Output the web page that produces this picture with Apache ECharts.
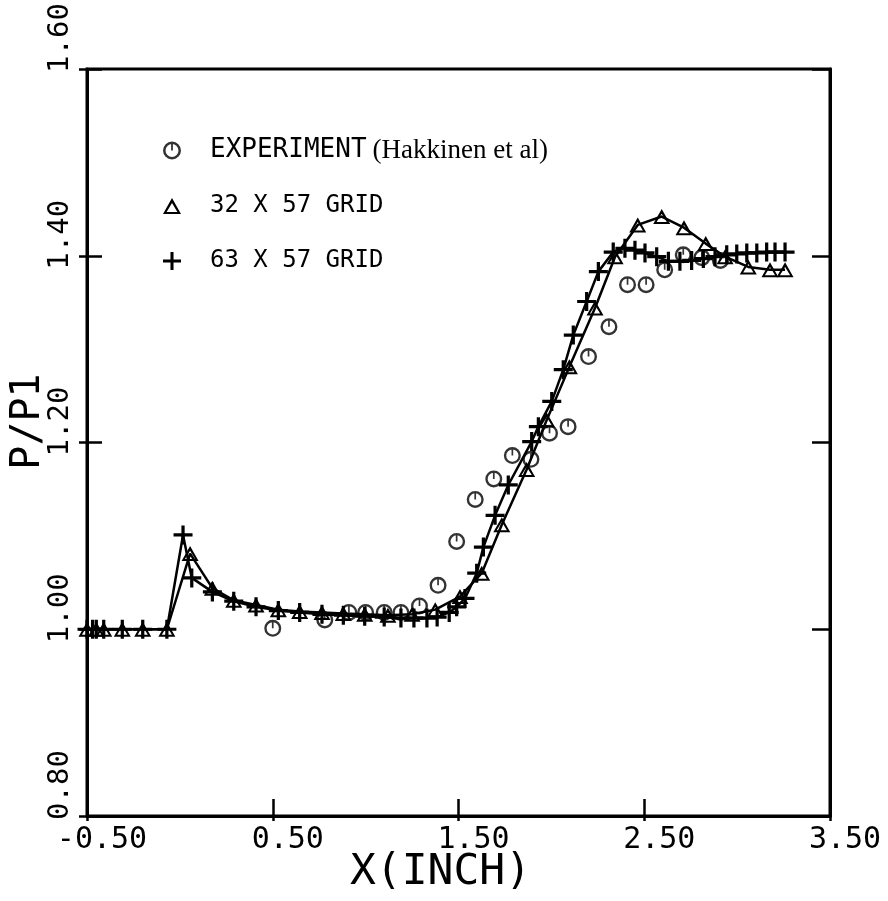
<!DOCTYPE html>
<html>
<head>
<meta charset="utf-8">
<script src="https://cdn.jsdelivr.net/npm/echarts@6/dist/echarts.min.js"></script>
<style>
html,body{margin:0;padding:0;background:#fff;}
#chart{width:888px;height:901px;}
</style>
</head>
<body>
<div id="chart"></div>
<script>
// Tick labels
const xTicks = [-0.50, 0.50, 1.50, 2.50, 3.50];
const yTicks = [0.80, 1.00, 1.20, 1.40, 1.60];

// Experiment (Hakkinen et al)
const xExp = [0.50, 0.78, 0.91, 1.00, 1.10, 1.19, 1.29, 1.39, 1.49, 1.59, 1.69, 1.79, 1.89, 1.99, 2.09, 2.20, 2.31, 2.41, 2.51, 2.61, 2.71, 2.81, 2.91];
const yExp = [1.001, 1.010, 1.018, 1.018, 1.018, 1.018, 1.025, 1.047, 1.094, 1.139, 1.161, 1.186, 1.182, 1.210, 1.217, 1.292, 1.324, 1.369, 1.369, 1.385, 1.401, 1.398, 1.395];

// 32 x 57 grid
const x32 = [-0.50, -0.45, -0.41, -0.31, -0.20, -0.07, 0.055, 0.175, 0.29, 0.41, 0.53, 0.645, 0.765, 0.88, 0.995, 1.12, 1.25, 1.375, 1.508, 1.625, 1.733, 1.867, 1.975, 2.097, 2.235, 2.343, 2.465, 2.594, 2.714, 2.831, 2.935, 3.06, 3.177, 3.258];
const y32 = [1.000, 1.000, 1.000, 1.000, 1.000, 1.000, 1.081, 1.044, 1.031, 1.026, 1.021, 1.019, 1.018, 1.017, 1.016, 1.015, 1.016, 1.021, 1.035, 1.060, 1.112, 1.171, 1.224, 1.281, 1.344, 1.399, 1.433, 1.442, 1.430, 1.413, 1.399, 1.388, 1.385, 1.385];

// 63 x 57 grid
const x63 = [-0.50, -0.47, -0.45, -0.41, -0.31, -0.20, -0.07, 0.017, 0.064, 0.175, 0.29, 0.41, 0.53, 0.645, 0.765, 0.88, 0.995, 1.10, 1.19, 1.26, 1.33, 1.385, 1.45, 1.49, 1.535, 1.598, 1.634, 1.697, 1.768, 1.894, 1.93, 2.002, 2.064, 2.118, 2.19, 2.253, 2.333, 2.396, 2.45, 2.504, 2.567, 2.63, 2.692, 2.755, 2.818, 2.881, 2.944, 2.998, 3.052, 3.106, 3.159, 3.204, 3.258];
const y63 = [1.000, 1.000, 1.000, 1.000, 1.000, 1.000, 1.000, 1.101, 1.055, 1.040, 1.030, 1.024, 1.020, 1.018, 1.016, 1.015, 1.014, 1.013, 1.012, 1.012, 1.012, 1.013, 1.018, 1.024, 1.033, 1.060, 1.088, 1.122, 1.1545, 1.201, 1.217, 1.244, 1.278, 1.315, 1.351, 1.383, 1.404, 1.408, 1.406, 1.403, 1.399, 1.394, 1.394, 1.395, 1.397, 1.399, 1.401, 1.402, 1.403, 1.403, 1.404, 1.404, 1.404];

const names = ['EXPERIMENT (Hakkinen et al)', '32 X 57 GRID', '63 X 57 GRID'];

const SYM_CIRCLE = 'path://M10,0A10,10,0,1,1,10,20A10,10,0,1,1,10,0ZM10,2.8A7.2,7.2,0,1,0,10,17.2A7.2,7.2,0,1,0,10,2.8ZM9,2.8L11,2.8L11,10L9,10Z';
const SYM_TRI = 'path://M10,0L20,18L0,18ZM10,5.6L4,15.6L16,15.6Z';
const SYM_PLUS = 'path://M0,8.3L20,8.3L20,11.7L0,11.7ZM8.3,0L11.7,0L11.7,20L8.3,20Z';

const zip = (a, b) => a.map((v, i) => [v, b[i]]);
const MONO = 'DejaVu Sans Mono';

const chart = echarts.init(document.getElementById('chart'), null, {renderer: 'canvas'});
const gridRect = {left: 87, right: 58, top: 69, bottom: 85, containLabel: false, outerBoundsMode: 'none'};

chart.setOption({
  animation: false,
  backgroundColor: '#fff',
  grid: [
    Object.assign({show: true, borderColor: '#000', borderWidth: 3, backgroundColor: 'transparent'}, gridRect),
    Object.assign({show: false}, gridRect)
  ],
  legend: {
    orient: 'vertical',
    left: 158,
    top: 132,
    itemWidth: 18,
    itemHeight: 18,
    itemGap: 29,
    selectedMode: false,
    data: [
      {name: names[0], icon: SYM_CIRCLE},
      {name: names[1], icon: SYM_TRI},
      {name: names[2], icon: SYM_PLUS}
    ],
    itemStyle: {color: '#000'},
    formatter: function (n) {
      if (n === names[0]) return '{m|EXPERIMENT}{s|(Hakkinen et al)}';
      return '{g|' + n + '}';
    },
    textStyle: {
      color: '#000',
      lineHeight: 26,
      rich: {
        m: {fontFamily: MONO, fontSize: 26, color: '#000', padding: [0, 6, 0, 24], lineHeight: 26},
        s: {fontFamily: 'Liberation Serif', fontSize: 27, color: '#000', lineHeight: 26},
        g: {fontFamily: MONO, fontSize: 24, color: '#000', padding: [0, 0, 0, 24], lineHeight: 26}
      }
    }
  },
  xAxis: [
    {
      type: 'value', gridIndex: 0, position: 'bottom',
      min: xTicks[0], max: xTicks[xTicks.length - 1], interval: xTicks[1] - xTicks[0],
      name: 'X(INCH)', nameLocation: 'middle', nameGap: 35, nameMoveOverlap: false,
      nameTextStyle: {fontFamily: MONO, fontSize: 43, color: '#000', padding: [0, 36, 0, 0]},
      axisLine: {show: true, onZero: false, lineStyle: {color: '#000', width: 3}},
      axisTick: {show: true, inside: true, length: 17, lineStyle: {color: '#000', width: 2.5}},
      splitLine: {show: false},
      axisLabel: {
        show: true, margin: 9, color: '#000', fontFamily: MONO, fontSize: 30,
        showMinLabel: true, showMaxLabel: true,
        padding: [0, 0, 0, 30],
        formatter: v => v.toFixed(2)
      }
    },
    {
      type: 'value', gridIndex: 1, position: 'bottom',
      min: xTicks[0], max: xTicks[xTicks.length - 1], interval: xTicks[1] - xTicks[0],
      axisLine: {show: false, onZero: false},
      axisTick: {show: true, inside: false, length: 5, lineStyle: {color: '#000', width: 2.5}},
      axisLabel: {show: false}, splitLine: {show: false}
    }
  ],
  yAxis: [
    {
      type: 'value', gridIndex: 0, position: 'left',
      min: yTicks[0], max: yTicks[yTicks.length - 1], interval: yTicks[1] - yTicks[0],
      name: 'P/P1', nameLocation: 'middle', nameGap: 38, nameRotate: 90, nameMoveOverlap: false,
      nameTextStyle: {fontFamily: MONO, fontSize: 40, color: '#000', padding: [0, 0, 0, 42]},
      axisLine: {show: true, onZero: false, lineStyle: {color: '#000', width: 3}},
      axisTick: {show: true, inside: true, length: 15, lineStyle: {color: '#000', width: 2.5}},
      splitLine: {show: false},
      axisLabel: {
        show: true, rotate: 90, margin: 12, color: '#000', fontFamily: MONO, fontSize: 29,
        showMinLabel: true, showMaxLabel: true,
        formatter: function (v) {
          const k = (Math.abs(v - yTicks[0]) < 1e-6 || Math.abs(v - yTicks[yTicks.length - 1]) < 1e-6) ? 'e' : 'm';
          return '{' + k + '|' + v.toFixed(2) + '}';
        },
        rich: {
          m: {fontFamily: MONO, fontSize: 29, color: '#000', padding: [0, 0, 0, 42]},
          e: {fontFamily: MONO, fontSize: 29, color: '#000', padding: [0, 0, 0, 62]}
        }
      }
    },
    {
      type: 'value', gridIndex: 0, position: 'right',
      min: yTicks[0], max: yTicks[yTicks.length - 1], interval: yTicks[1] - yTicks[0],
      axisLine: {show: true, onZero: false, lineStyle: {color: '#000', width: 3}},
      axisTick: {show: true, inside: true, length: 18, lineStyle: {color: '#000', width: 2.5}},
      axisLabel: {show: false}, splitLine: {show: false}
    },
    {
      type: 'value', gridIndex: 1, position: 'left',
      min: yTicks[0], max: yTicks[yTicks.length - 1], interval: yTicks[1] - yTicks[0],
      axisLine: {show: false, onZero: false},
      axisTick: {show: true, inside: false, length: 8, lineStyle: {color: '#000', width: 2.5}},
      axisLabel: {show: false}, splitLine: {show: false}
    }
  ],
  series: [
    {
      name: names[0], type: 'scatter', xAxisIndex: 0, yAxisIndex: 0,
      data: zip(xExp, yExp),
      symbol: SYM_CIRCLE, symbolSize: 17,
      itemStyle: {color: '#000'}, z: 3
    },
    {
      name: names[1], type: 'line', xAxisIndex: 0, yAxisIndex: 0,
      data: zip(x32, y32),
      symbol: SYM_TRI, symbolSize: [17, 15], showAllSymbol: true,
      lineStyle: {color: '#000', width: 2.5},
      itemStyle: {color: '#000'}, z: 2
    },
    {
      name: names[2], type: 'line', xAxisIndex: 0, yAxisIndex: 0,
      data: zip(x63, y63),
      symbol: SYM_PLUS, symbolSize: 19, showAllSymbol: true,
      lineStyle: {color: '#000', width: 2.5},
      itemStyle: {color: '#000'}, z: 2
    }
  ]
});
</script>
</body>
</html>
